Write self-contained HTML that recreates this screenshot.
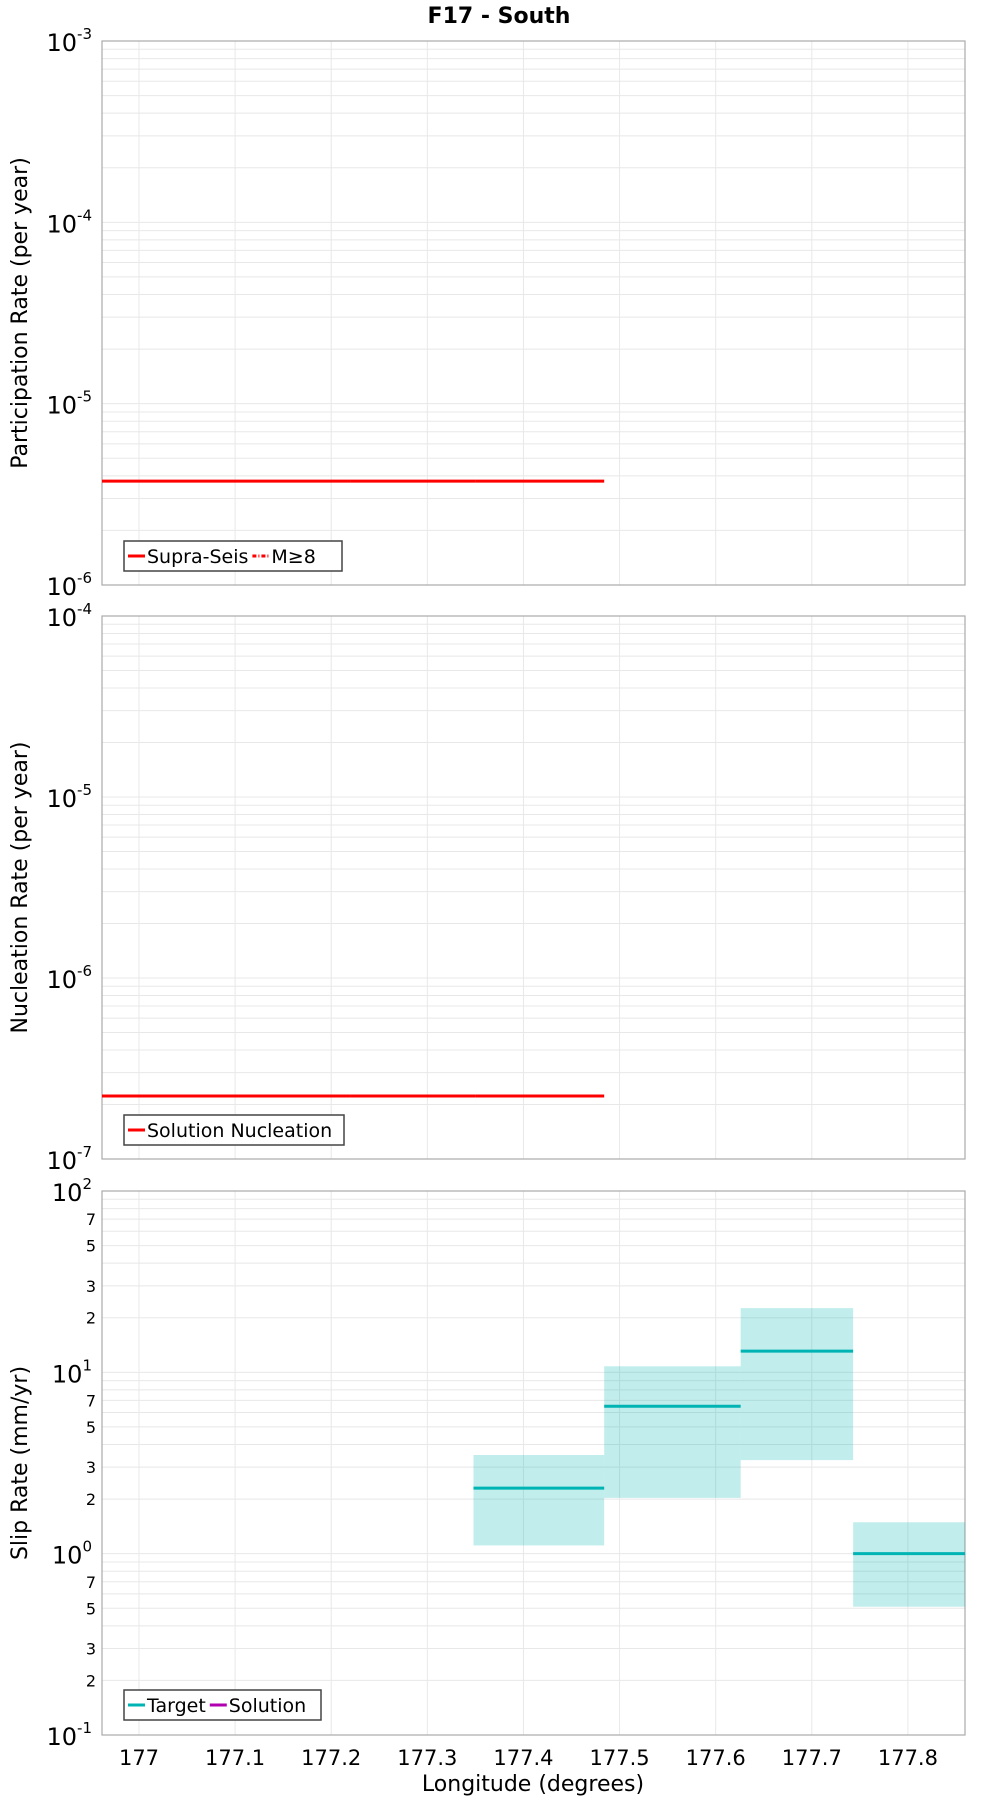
<!DOCTYPE html>
<html><head><meta charset="utf-8"><style>
body{margin:0;background:#fff}
svg{display:block;font-family:"DejaVu Sans","Liberation Sans",sans-serif}
</style></head><body>
<svg id="c" width="1000" height="1800" viewBox="0 0 1000 1800"></svg>
<script>
const xTicks=[177,177.1,177.2,177.3,177.4,177.5,177.6,177.7,177.8];
const xDomain=[176.9615,177.8594];
const segStarts=[176.9615,177.09,177.22,177.35];
const segEnds=[177.09,177.22,177.35,177.484];
const partRate=[3.74e-6,3.74e-6,3.74e-6,3.74e-6];
const nuclRate=[2.23e-7,2.23e-7,2.23e-7,2.23e-7];
const slipStarts=[177.348,177.484,177.626,177.743];
const slipEnds=[177.484,177.626,177.743,177.8594];
const slipTarget=[2.30,6.5,13.1,1.0];
const slipUpper=[3.5,10.8,22.6,1.49];
const slipLower=[1.11,2.03,3.28,0.51];

const NS="http://www.w3.org/2000/svg";
const svg=document.getElementById('c');
const L=102,R=965;
function mk(t,a,p){const e=document.createElementNS(NS,t);for(const k in a)e.setAttribute(k,a[k]);(p||svg).appendChild(e);return e;}
const X=v=>L+(v-xDomain[0])/(xDomain[1]-xDomain[0])*(R-L);
const panels=[
 {top:41,bot:585,lo:-6,hi:-3,title:"Participation Rate (per year)",minorLabels:false},
 {top:616,bot:1159,lo:-7,hi:-4,title:"Nucleation Rate (per year)",minorLabels:false},
 {top:1191,bot:1735,lo:-1,hi:2,title:"Slip Rate (mm/yr)",minorLabels:true}
];
panels.forEach((p,i)=>{
 p.Y=v=>p.bot-(Math.log10(v)-p.lo)/(p.hi-p.lo)*(p.bot-p.top);
 const g=mk('g',{});
 
 
 for(let d=p.lo;d<p.hi;d++){for(let m=1;m<10;m++){const y=p.Y(m*Math.pow(10,d));
  const ln=mk('line',{x1:L,x2:R,y1:y,y2:y,stroke:'#e8e8e8','stroke-width':1},g);
  
  if(p.minorLabels&&(m==2||m==3||m==5||m==7)){const t=mk('text',{x:L-6,y:y+6,'text-anchor':'end','font-size':16,fill:'#000'},g);t.textContent=m;
   }
 }}
 xTicks.forEach(v=>{const ln=mk('line',{x1:X(v),x2:X(v),y1:p.top,y2:p.bot,stroke:'#e8e8e8','stroke-width':1},g);
  });
 for(let d=p.lo;d<=p.hi;d++){const y=p.Y(Math.pow(10,d));
  const t=mk('text',{x:L-10,y:y+10,'text-anchor':'end','font-size':24,fill:'#000'},g);
  t.innerHTML='10<tspan dy="-12" font-size="15">'+d+'</tspan>';
  }
 const fr=mk('rect',{x:L,y:p.top,width:R-L,height:p.bot-p.top,fill:'none',stroke:'#aaa','stroke-width':1.2},g);
 
 const cy=(p.top+p.bot)/2;
 const tt=mk('text',{x:0,y:0,transform:`translate(27,${cy}) rotate(-90)`,'text-anchor':'middle','font-size':22,fill:'#000'},g);
 tt.textContent=p.title;
});
// panel 1 & 2 lines
[[panels[0],partRate,'participation-segment'],[panels[1],nuclRate,'nucleation-segment']].forEach(([p,vals,nm])=>{
 vals.forEach((v,i)=>{const l=mk('line',{x1:X(segStarts[i]),x2:X(segEnds[i]),y1:p.Y(v),y2:p.Y(v),stroke:'#f00','stroke-width':3});
  });
});
// slip
const ps=panels[2];
slipTarget.forEach((v,i)=>{
 const r=mk('rect',{x:X(slipStarts[i]),y:ps.Y(slipUpper[i]),width:X(slipEnds[i])-X(slipStarts[i]),height:ps.Y(slipLower[i])-ps.Y(slipUpper[i]),fill:'rgba(0,180,180,0.24)'});
 
 const l=mk('line',{x1:X(slipStarts[i]),x2:X(slipEnds[i]),y1:ps.Y(v),y2:ps.Y(v),stroke:'#00b4b4','stroke-width':3});
 
});
// x tick labels
xTicks.forEach(v=>{const t=mk('text',{x:X(v),y:1765,'text-anchor':'middle','font-size':21,fill:'#000'});t.textContent=v;
 });
const xt=mk('text',{x:533,y:1791,'text-anchor':'middle','font-size':22,fill:'#000'});xt.textContent='Longitude (degrees)';

const ti=mk('text',{x:499,y:23,'text-anchor':'middle','font-size':22,'font-weight':'bold',fill:'#000'});ti.textContent='F17 - South';

// legends
function legend(x,y,w,items,nm){const g=mk('g',{});
 mk('rect',{x:x,y:y,width:w,height:30,fill:'#fff',stroke:'#444','stroke-width':1.5},g);
 let cx=x+4;items.forEach(([lab,col,dash])=>{const a={x1:cx,x2:cx+17,y1:y+15,y2:y+15,stroke:col,'stroke-width':3};if(dash)a['stroke-dasharray']='4,2,1,2';
  mk('line',a,g);const t=mk('text',{x:cx+19,y:y+22,'font-size':19,fill:'#000'},g);t.textContent=lab;
  cx+=19+t.getComputedTextLength()+4;});}
legend(124,541,218,[['Supra-Seis','#f00'],['M≥8','#f00',1]],'legend-participation');
legend(124,1115,220,[['Solution Nucleation','#f00']],'legend-nucleation');
legend(124,1690,197,[['Target','#00b4b4'],['Solution','#b000b0']],'legend-slip');
</script>
</body></html>
